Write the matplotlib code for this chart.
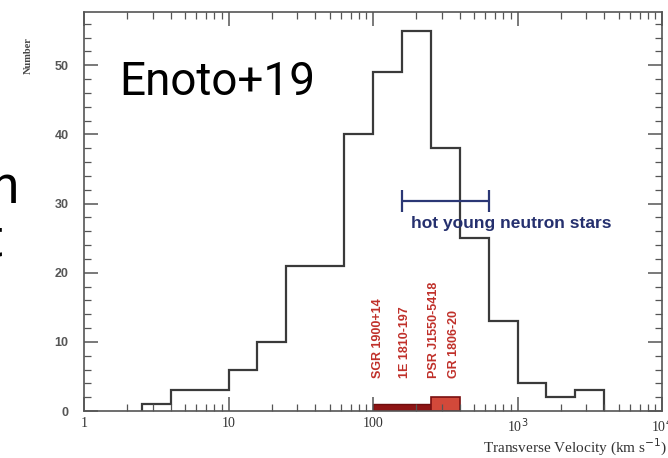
import numpy as np
import matplotlib.pyplot as plt
from matplotlib.ticker import LogLocator, MultipleLocator, FixedLocator, FixedFormatter

# histogram of transverse velocities (bin edges in log10 km/s)
log_edges = [0.4, 0.6, 0.8, 1.0, 1.2, 1.4, 1.6, 1.8, 2.0, 2.2, 2.4, 2.6, 2.8, 3.0, 3.2, 3.4, 3.6]
counts = [1, 3, 3, 6, 10, 21, 21, 40, 49, 55, 38, 25, 13, 4, 2, 3]

# magnetar velocities (red boxes)
mag_left = [100, 250]
mag_right = [250, 400]
mag_height = [1, 2]
mag_names = ["SGR 1900+14", "1E 1810-197", "PSR J1550-5418", "GR 1806-20"]
mag_label_x = [108, 166, 264, 363]

# hot young neutron stars range
hyns_lo, hyns_hi, hyns_y = 160, 630, 30.3

xticks = [1, 10, 100, 1000, 10000]
xtick_labels = ["1", "10", "100", r"10$^3$", r"10$^4$"]
yticks = [0, 10, 20, 30, 40, 50]

fig = plt.figure(figsize=(6.68, 4.58), dpi=100)
ax = fig.add_axes([84/668, 1-411/458, (662-84)/668, (411-12)/458])

edges = 10 ** np.array(log_edges)
ax.stairs(counts, edges, color="#3a3a3a", lw=1.6, baseline=0)

# red bars
ax.bar(mag_left[0], mag_height[0], width=mag_right[0]-mag_left[0], align="edge",
       color="#8e1414", edgecolor="#6e0d0d", lw=1)
ax.bar(mag_left[1], mag_height[1], width=mag_right[1]-mag_left[1], align="edge",
       color="#d2493a", edgecolor="#7a1010", lw=1.2)
for name, xv in zip(mag_names, mag_label_x):
    ax.text(xv, 4.7, name, rotation=90, ha="center", va="bottom", color="#c0302a",
            fontsize=9, fontweight="bold", family="Liberation Sans")

# error bar for hot young NS
c = np.sqrt(hyns_lo * hyns_hi)
ax.errorbar([c], [hyns_y], xerr=[[c-hyns_lo], [hyns_hi-c]], fmt="none",
            ecolor="#2b3775", elinewidth=1.6, capsize=8, capthick=1.6)
ax.text(900, 27.1, "hot young neutron stars", ha="center", va="center", color="#25306e",
        fontsize=12.5, fontweight="bold", family="Liberation Sans")

ax.set_xscale("log")
ax.set_xlim(1, 10000)
ax.set_ylim(0, 57.7)

ax.xaxis.set_major_locator(FixedLocator(xticks))
ax.xaxis.set_major_formatter(FixedFormatter(xtick_labels))
ax.xaxis.set_minor_locator(LogLocator(base=10, subs=np.arange(2, 10)))
ax.xaxis.set_minor_formatter(FixedFormatter([]))
ax.yaxis.set_major_locator(FixedLocator(yticks))
ax.yaxis.set_minor_locator(MultipleLocator(2))

for s in ax.spines.values():
    s.set_color("#555555")
    s.set_linewidth(1.2)
ax.tick_params(which="both", direction="in", top=True, right=True, color="#555555")
ax.tick_params(which="major", length=10, width=1.1)
ax.tick_params(which="minor", length=5, width=0.9)
ax.tick_params(axis="x", which="major", pad=4, labelsize=10, labelcolor="#333333")
ax.tick_params(axis="y", which="major", pad=11, labelsize=9, labelcolor="#555555")
for lab in ax.get_xticklabels():
    lab.set_family("Liberation Serif")
for lab in ax.get_yticklabels():
    lab.set_family("Liberation Sans")
    lab.set_fontweight("bold")

fig.text(28/668, 1-56/458, "Number", rotation=90, ha="center", va="center",
         fontsize=7.5, fontweight="bold", color="#444444", family="Liberation Serif")
fig.text(667/668, 0, r"Transverse Velocity (km s$^{-1}$)", ha="right", va="bottom",
         fontsize=11, color="#333333", family="Liberation Serif")

fig.text(217/668, 1-95/458, "Enoto+19", ha="center", va="baseline", fontsize=33,
         color="black", family="Roboto")
fig.text(19/668, 1-203/458, "n", ha="right", va="baseline", fontsize=37,
         color="black", family="Roboto")
fig.text(4/668, 1-256/458, "t", ha="right", va="baseline", fontsize=37,
         color="black", family="Roboto")

fig.savefig("out.png", dpi=100)
